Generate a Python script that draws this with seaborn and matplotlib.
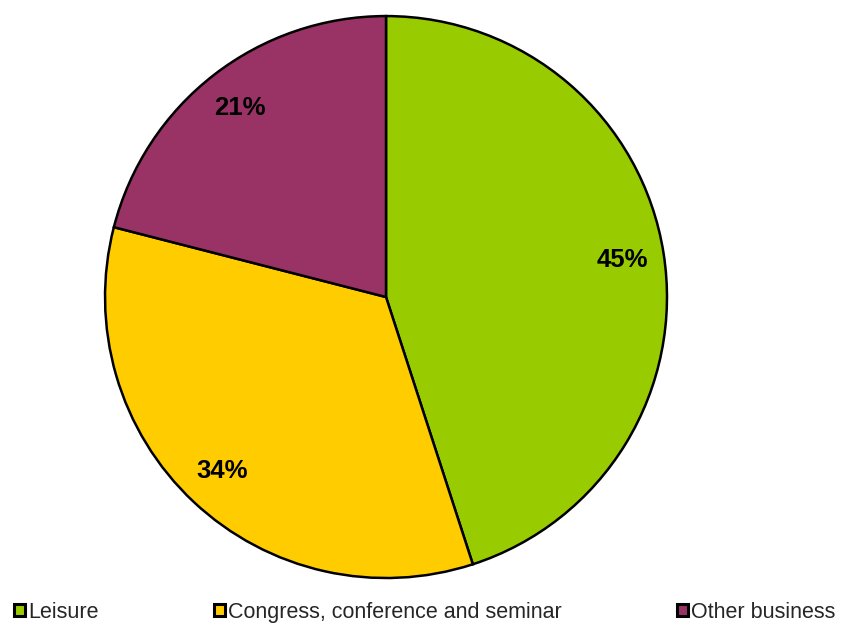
import matplotlib
matplotlib.use("Agg")
import matplotlib.pyplot as plt
import seaborn as sns

categories = ["Leisure", "Congress, conference and seminar", "Other business"]
shares = [45, 34, 21]
colors = ["#99CC00", "#FFCC00", "#993366"]

sns.set_style("white")
plt.rcParams["font.family"] = ["Liberation Sans", "DejaVu Sans"]

fig = plt.figure(figsize=(8.42, 6.23), dpi=100)
ax = fig.add_axes([0.1247, 0.0722, 0.6675, 0.902])

palette = sns.color_palette(colors)
wedges, texts, autotexts = ax.pie(
    shares,
    colors=palette,
    startangle=90,
    counterclock=False,
    autopct="%d%%",
    pctdistance=0.85,
    wedgeprops=dict(edgecolor="black", linewidth=1.8),
    textprops=dict(fontsize=18.5, fontweight="bold", color="black"),
)
ax.set_aspect("equal")
ax.set_xlim(-1.0, 1.0)
ax.set_ylim(-1.0, 1.0)

leg = fig.legend(
    wedges,
    categories,
    loc="lower left",
    bbox_to_anchor=(-0.006, -0.031),
    ncol=3,
    frameon=False,
    fontsize=15.5,
    handlelength=0.5,
    handleheight=0.5,
    handletextpad=0.15,
    columnspacing=5.35,
)
for h in leg.legend_handles:
    h.set_linewidth(2.2)
    h.set_edgecolor("black")

fig.savefig("out.png", dpi=100)
